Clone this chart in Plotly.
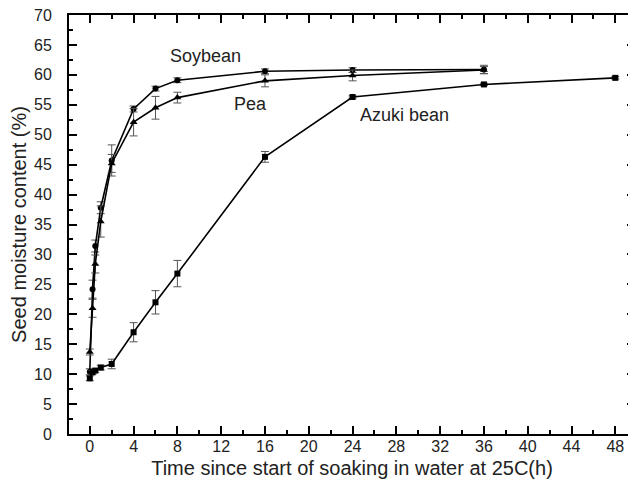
import plotly.graph_objects as go

# Data
soy_t = [0, 0.25, 0.5, 1, 2, 4, 6, 8, 16, 24, 36]
soy_y = [10.4, 24.2, 31.4, 37.8, 45.7, 54.3, 57.7, 59.1, 60.6, 60.8, 60.9]
soy_e = [0.5, 1.5, 1.0, 1.0, 2.6, 0.5, 0.4, 0.4, 0.4, 0.4, 0.7]

pea_t = [0, 0.25, 0.5, 1, 2, 4, 6, 8, 16, 24, 36]
pea_y = [13.7, 21.0, 28.4, 35.5, 45.2, 52.1, 54.5, 56.2, 59.0, 59.9, 60.8]
pea_e = [0.5, 1.5, 1.5, 2.6, 1.5, 2.3, 1.9, 0.9, 1.0, 0.9, 0.6]

azk_t = [0, 0.25, 0.5, 1, 2, 4, 6, 8, 16, 24, 36, 48]
azk_y = [9.3, 10.3, 10.6, 11.1, 11.7, 17.0, 22.0, 26.8, 46.3, 56.3, 58.4, 59.5]
azk_e = [0.4, 0.3, 0.3, 0.4, 0.8, 1.6, 1.95, 2.2, 0.9, 0.2, 0.2, 0.2]

labels = ["Soybean", "Pea", "Azuki bean"]
label_x = [10.6, 14.7, 28.7]
label_y = [63.2, 55.1, 53.3]

x_ticks = list(range(0, 49, 4))
y_ticks = list(range(0, 71, 5))

FONT = "Liberation Sans, Arial, sans-serif"
err_style = dict(type="data", thickness=1, width=4, color="#555555")

fig = go.Figure()
fig.add_trace(go.Scatter(x=soy_t, y=soy_y, mode="lines+markers", name=labels[0],
                         error_y=dict(array=soy_e, **err_style),
                         line=dict(color="black", width=1.6),
                         marker=dict(symbol="circle", size=6, color="black")))
fig.add_trace(go.Scatter(x=pea_t, y=pea_y, mode="lines+markers", name=labels[1],
                         error_y=dict(array=pea_e, **err_style),
                         line=dict(color="black", width=1.6),
                         marker=dict(symbol="triangle-up", size=7, color="black")))
fig.add_trace(go.Scatter(x=azk_t, y=azk_y, mode="lines+markers", name=labels[2],
                         error_y=dict(array=azk_e, **err_style),
                         line=dict(color="black", width=1.6),
                         marker=dict(symbol="square", size=6, color="black")))

for t, x, y in zip(labels, label_x, label_y):
    fig.add_annotation(x=x, y=y, text=t, showarrow=False,
                       font=dict(size=18, color="#222222", family=FONT))

fig.update_xaxes(range=[-1.9, 49.8], tickvals=x_ticks, ticks="inside", ticklen=8,
                 tickwidth=1.5, tickcolor="black", showline=True, linecolor="black",
                 linewidth=2, mirror="ticks", showgrid=False, zeroline=False,
                 automargin=False, ticklabelstandoff=-3, ticklabeloverflow="allow",
                 minor=dict(dtick=2, tick0=0, ticks="inside", ticklen=4, tickwidth=1.5,
                            tickcolor="black", showgrid=False),
                 tickfont=dict(size=16, color="#222222", family=FONT),
                 title=dict(text="Time since start of soaking in water at 25C(h)",
                            font=dict(size=20, color="#222222", family=FONT), standoff=7))
fig.update_yaxes(range=[0, 70], tickvals=y_ticks, ticks="inside", ticklen=8,
                 tickwidth=1.5, tickcolor="black", showline=True, linecolor="black",
                 linewidth=2, mirror="ticks", showgrid=False, zeroline=False,
                 automargin=False, ticklabelstandoff=12, ticklabeloverflow="allow",
                 minor=dict(dtick=2.5, tick0=0, ticks="inside", ticklen=4, tickwidth=1.5,
                            tickcolor="black", showgrid=False),
                 tickfont=dict(size=16, color="#222222", family=FONT),
                 title=dict(text="Seed moisture content (%)",
                            font=dict(size=20, color="#222222", family=FONT), standoff=2))

# page body has an 8px margin, so the figure is sized/offset to compensate
fig.update_layout(width=628, height=482, margin=dict(l=61, r=1, t=7, b=56),
                  plot_bgcolor="white", paper_bgcolor="white", showlegend=False,
                  font=dict(family=FONT))

fig.write_html("out.html")
